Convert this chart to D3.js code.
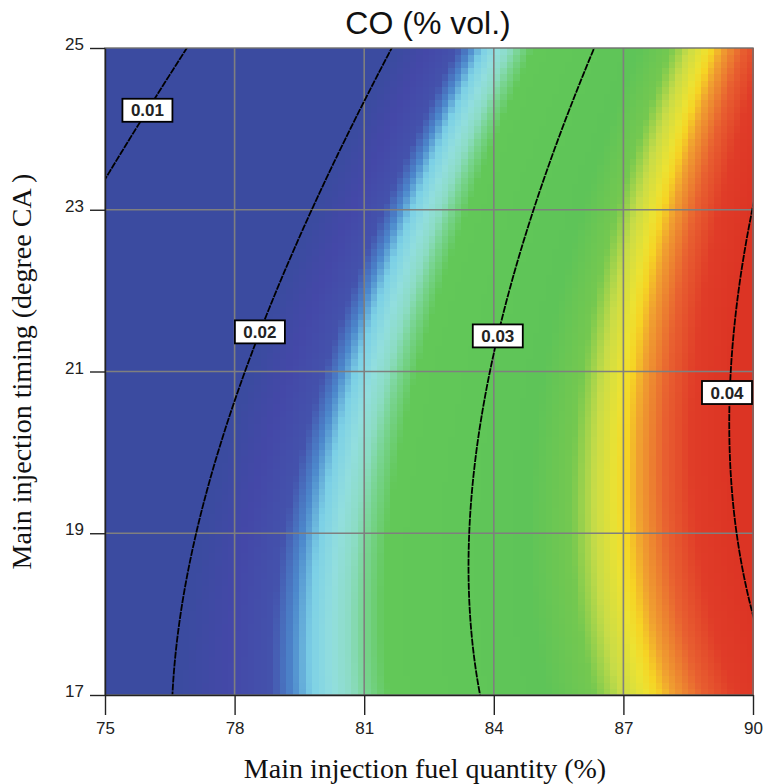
<!DOCTYPE html>
<html>
<head>
<meta charset="utf-8">
<script src="https://cdn.jsdelivr.net/npm/d3@7"></script>
<style>
  body { margin: 0; background: #fff; }
  svg { display: block; }
</style>
</head>
<body>
<svg id="chart" width="765" height="784"></svg>
<script>
// Factor ranges and tick labels
const xTicks = [75, 78, 81, 84, 87, 90];      // main injection fuel quantity (%)
const yTicks = [17, 19, 21, 23, 25];          // main injection timing (degree CA)

// Quadratic response surface for CO in coded factors
// A = (fuel - 82.5) / 7.5, B = (timing - 21) / 4
const modelTerms = ["b0", "A", "B", "AB", "A2", "B2"];
const modelCoefs = [0.027497, 0.013285, -0.003245, 0.002659, 0.00015, -0.002421];

// Contour levels and the timing at which each label sits on its line
const contourLevels = [0.01, 0.02, 0.03, 0.04];
const labelTimings = [24.23, 21.49, 21.44, 20.74];

// Colour ramp (CO value -> colour)
const colorValues = [0.0203, 0.0218, 0.0232, 0.0239, 0.0245, 0.0252, 0.0258, 0.0263, 0.0270,
                     0.0322, 0.0338, 0.0347, 0.0355, 0.0359, 0.0364, 0.0374, 0.0385, 0.0400];
const colorHexes  = ["#3b4ba0", "#4448a8", "#4452ac", "#4c88cc", "#7cd0e6", "#92dede", "#8cdcc4", "#78d490", "#62c858",
                     "#5ec458", "#74c850", "#c8dc48", "#ece232", "#f6d424", "#f0a030", "#e86030", "#e03c28", "#dc3424"];

const margin = { left: 105, right: 12, top: 48, bottom: 89 };
const W = 765, H = 784;
const plotW = W - margin.left - margin.right;
const plotH = H - margin.top - margin.bottom;

const svg = d3.select("#chart");
const g = svg.append("g").attr("transform", `translate(${margin.left},${margin.top})`);

const x = d3.scaleLinear().domain([75, 90]).range([0, plotW]);
const y = d3.scaleLinear().domain([17, 25]).range([plotH, 0]);
const color = d3.scaleLinear().domain(colorValues).range(colorHexes).clamp(true);

function co(fuel, timing) {
  const A = (fuel - 82.5) / 7.5, B = (timing - 21) / 4;
  const c = modelCoefs;
  return c[0] + c[1] * A + c[2] * B + c[3] * A * B + c[4] * A * A + c[5] * B * B;
}

// Colour map drawn as a grid of cells
const nCells = 100;
const dx = (90 - 75) / nCells, dy = (25 - 17) / nCells;
const cells = [];
for (let j = 0; j < nCells; j++) {
  for (let i = 0; i < nCells; i++) {
    const fx = 75 + i * dx, ty = 17 + j * dy;
    cells.push({ fx, ty, v: co(fx + dx / 2, ty + dy / 2) });
  }
}
g.append("g")
  .attr("shape-rendering", "crispEdges")
  .selectAll("rect")
  .data(cells)
  .join("rect")
  .attr("x", d => x(d.fx))
  .attr("y", d => y(d.ty + dy))
  .attr("width", x(75 + dx) - x(75) + 0.6)
  .attr("height", y(17) - y(17 + dy) + 0.6)
  .attr("fill", d => color(d.v));

// Grid lines
const grid = g.append("g").attr("stroke", "#7f7f7f").attr("stroke-width", 1.6);
grid.selectAll("line.vx").data(xTicks.slice(1, -1)).join("line")
  .attr("x1", d => x(d)).attr("x2", d => x(d)).attr("y1", 0).attr("y2", plotH);
grid.selectAll("line.hy").data(yTicks.slice(1, -1)).join("line")
  .attr("y1", d => y(d)).attr("y2", d => y(d)).attr("x1", 0).attr("x2", plotW);

// Contour lines from a sampled field that extends past the plot edges
const step = 0.04;
const gx0 = 74, gx1 = 91, gy0 = 16, gy1 = 26;
const nx = Math.round((gx1 - gx0) / step) + 1;
const ny = Math.round((gy1 - gy0) / step) + 1;
const field = new Array(nx * ny);
for (let j = 0; j < ny; j++)
  for (let i = 0; i < nx; i++)
    field[j * nx + i] = co(gx0 + i * step, gy0 + j * step);

const contours = d3.contours().size([nx, ny]).thresholds(contourLevels)(field);
const proj = d3.geoTransform({
  point(px, py) {
    this.stream.point(x(gx0 + (px - 0.5) * step), y(gy0 + (py - 0.5) * step));
  }
});
svg.append("defs").append("clipPath").attr("id", "plotClip")
  .append("rect").attr("width", plotW).attr("height", plotH);

g.append("g").attr("clip-path", "url(#plotClip)")
  .selectAll("path")
  .data(contours)
  .join("path")
  .attr("d", d3.geoPath(proj))
  .attr("fill", "none")
  .attr("stroke", "#000")
  .attr("stroke-width", 1.8)
  .attr("stroke-dasharray", "7,1");

// Plot frame
g.append("rect").attr("width", plotW).attr("height", plotH)
  .attr("fill", "none").attr("stroke", "#707070").attr("stroke-width", 1.4);

// Axes
const xAxis = g.append("g").attr("transform", `translate(0,${plotH})`)
  .call(d3.axisBottom(x).tickValues(xTicks).tickFormat(d3.format("d")).tickSize(20).tickSizeOuter(0).tickPadding(7));
const yAxis = g.append("g")
  .call(d3.axisLeft(y).tickValues(yTicks).tickFormat(d3.format("d")).tickSize(15).tickSizeOuter(0).tickPadding(6));
[xAxis, yAxis].forEach(a => {
  a.select(".domain").attr("stroke", "#222").attr("stroke-width", 1.4);
  a.selectAll(".tick line").attr("stroke", "#222").attr("stroke-width", 1.4);
  a.selectAll(".tick text").attr("font-family", "Liberation Sans, Arial, sans-serif")
    .attr("font-size", 17).attr("fill", "#222");
});
yAxis.selectAll(".tick text").attr("dy", "0.1em");

// Contour labels placed on their lines
function fuelAt(level, timing) {
  let lo = 75, hi = 90;
  for (let k = 0; k < 60; k++) {
    const mid = (lo + hi) / 2;
    if (co(mid, timing) < level) lo = mid; else hi = mid;
  }
  return (lo + hi) / 2;
}
const boxW = 50, boxH = 23;
const labels = g.append("g");
contourLevels.forEach((lv, k) => {
  const cx = Math.min(x(fuelAt(lv, labelTimings[k])), plotW - boxW / 2 - 1);
  const cy = y(labelTimings[k]);
  const lg = labels.append("g").attr("transform", `translate(${cx},${cy})`);
  lg.append("rect").attr("x", -boxW / 2).attr("y", -boxH / 2).attr("width", boxW).attr("height", boxH)
    .attr("fill", "#fff").attr("stroke", "#000").attr("stroke-width", 1.8);
  lg.append("text").attr("text-anchor", "middle").attr("dy", "0.36em")
    .attr("font-family", "Liberation Sans, Arial, sans-serif").attr("font-weight", "bold")
    .attr("font-size", 17).attr("fill", "#222").text(d3.format(".2f")(lv));
});

// Titles
svg.append("text").attr("x", 428).attr("y", 34).attr("text-anchor", "middle")
  .attr("font-family", "Liberation Sans, Arial, sans-serif").attr("font-size", 32).attr("fill", "#111")
  .text("CO (% vol.)");
svg.append("text").attr("x", 425).attr("y", 778).attr("text-anchor", "middle")
  .attr("font-family", "Liberation Serif, Times New Roman, serif").attr("font-size", 28).attr("fill", "#111")
  .text("Main injection fuel quantity (%)");
svg.append("text").attr("transform", `translate(31,${margin.top + plotH / 2}) rotate(-90)`)
  .attr("text-anchor", "middle")
  .attr("font-family", "Liberation Serif, Times New Roman, serif").attr("font-size", 28).attr("fill", "#111")
  .text("Main injection timing (degree CA )");
</script>
</body>
</html>
